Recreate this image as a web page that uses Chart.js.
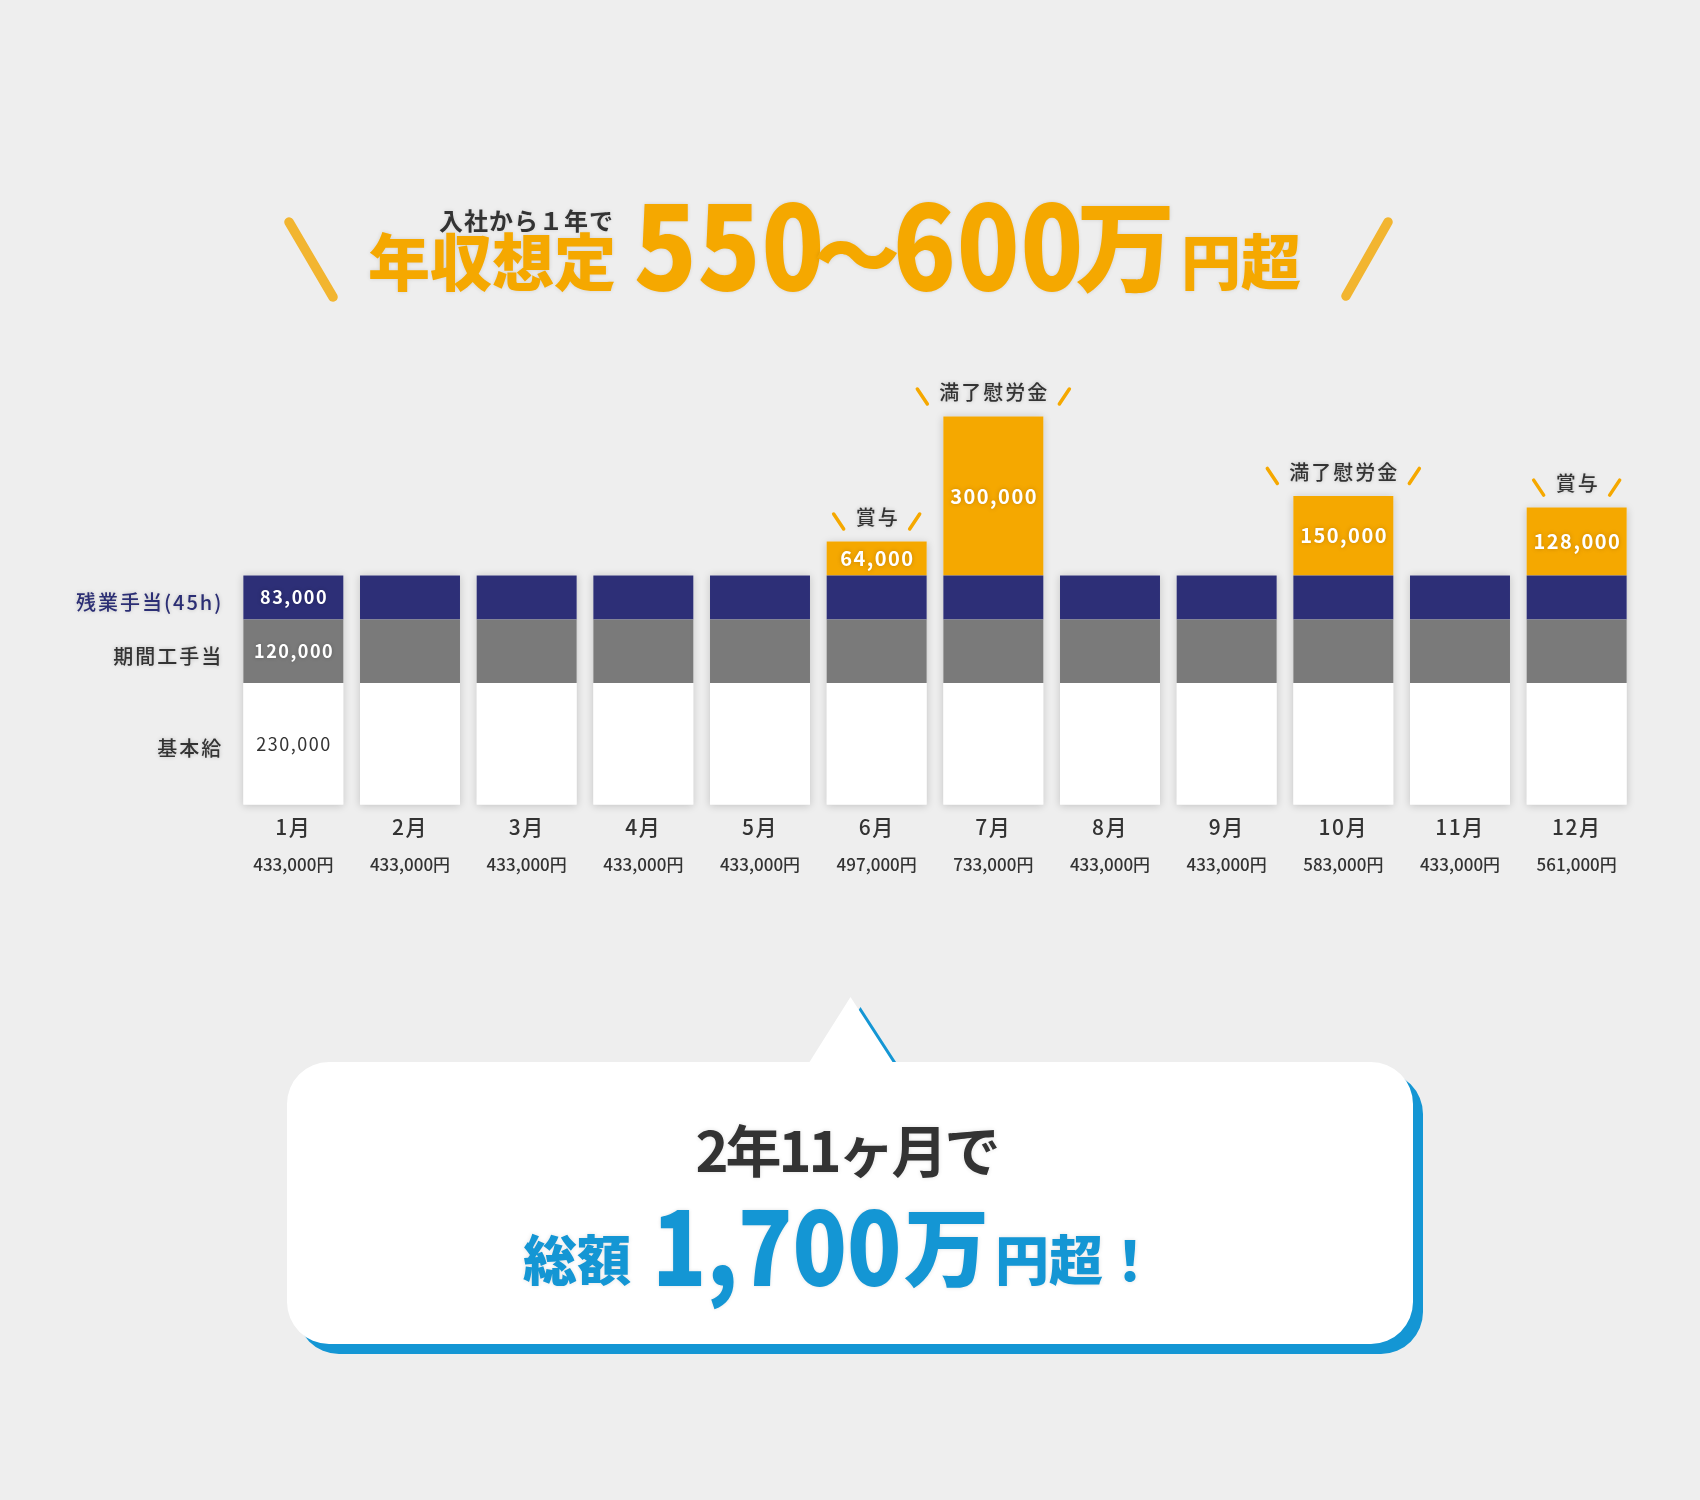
<!DOCTYPE html>
<html lang="ja">
<head>
<meta charset="utf-8">
<title>年収想定</title>
<script src="https://cdn.jsdelivr.net/npm/chart.js@4.4.1/dist/chart.umd.min.js"></script>
<style>
  body { margin: 0; background: #eeeeee; font-family: "Noto Sans CJK JP", "Noto Sans", sans-serif; }
  #page { position: relative; width: 1700px; height: 1500px; overflow: hidden; }
  #deco, #salary-chart { position: absolute; left: 0; top: 0; }
  .txt { position: absolute; line-height: 1; white-space: nowrap; text-shadow: 0 0 4px rgba(0,0,0,0.12); }
  .orange { color: #f5a800; font-weight: 900; }
  .blue { color: #1496d4; font-weight: 900; }
  /* the reference digits are a touch condensed */
  .narrow { transform: scaleX(0.89); transform-origin: 0 0; }
</style>
</head>
<body>
<div id="page">
  <svg id="deco" width="1700" height="1500">
    <g stroke="#f2b530" stroke-width="9.5" stroke-linecap="round">
      <line x1="289" y1="222" x2="333" y2="297"/>
      <line x1="1388" y1="222" x2="1346" y2="296"/>
    </g>
    <!-- speech bubble: blue copy offset behind the white one -->
    <path transform="translate(10,10)" fill="#1496d4" d="M329 1062 L809.5 1062 L850.5 997 L892.5 1062 L1371 1062 A42 42 0 0 1 1413 1104 L1413 1302 A42 42 0 0 1 1371 1344 L329 1344 A42 42 0 0 1 287 1302 L287 1104 A42 42 0 0 1 329 1062 Z"/>
    <path fill="#ffffff" d="M329 1062 L809.5 1062 L850.5 997 L892.5 1062 L1371 1062 A42 42 0 0 1 1413 1104 L1413 1302 A42 42 0 0 1 1371 1344 L329 1344 A42 42 0 0 1 287 1302 L287 1104 A42 42 0 0 1 329 1062 Z"/>
  </svg>

  <canvas id="salary-chart" width="1700" height="1500"></canvas>

  <!-- title -->
  <div class="txt" style="left:439px; top:208px; font-size:24px; font-weight:700; color:#333; letter-spacing:1px;">入社から１年で</div>
  <div class="txt orange" style="left:368px; top:228px; font-size:62px;">年収想定</div>
  <div class="txt orange narrow" style="left:634px; top:181px; font-size:116px; letter-spacing:1px;">550</div>
  <div class="txt orange" style="left:814px; top:208px; font-size:86px;">〜</div>
  <div class="txt orange narrow" style="left:893px; top:181px; font-size:116px; letter-spacing:1px;">600</div>
  <div class="txt orange" style="left:1076px; top:192px; font-size:99px;">万</div>
  <div class="txt orange" style="left:1181px; top:229px; font-size:60px;">円超</div>

  <!-- bubble text -->
  <div class="txt" style="left:287px; width:1119px; text-align:center; top:1120px; font-size:56px; font-weight:700; color:#333; letter-spacing:-3px;">2年11ヶ月で</div>
  <div class="txt blue" style="left:523px; top:1231px; font-size:54px;">総額</div>
  <div class="txt blue" style="left:652px; top:1191px; font-size:102px; transform:scaleX(0.878); transform-origin:0 0;">1,700</div>
  <div class="txt blue" style="left:904px; top:1200px; font-size:85px;">万</div>
  <div class="txt blue" style="left:995px; top:1231px; font-size:54px;">円超！</div>
</div>

<script>
  // monthly pay breakdown (yen)
  const months = ['1月', '2月', '3月', '4月', '5月', '6月', '7月', '8月', '9月', '10月', '11月', '12月'];
  const basePay = [230000, 230000, 230000, 230000, 230000, 230000, 230000, 230000, 230000, 230000, 230000, 230000];
  const periodAllowance = [120000, 120000, 120000, 120000, 120000, 120000, 120000, 120000, 120000, 120000, 120000, 120000];
  const overtimePay = [83000, 83000, 83000, 83000, 83000, 83000, 83000, 83000, 83000, 83000, 83000, 83000];
  const bonusPay = [0, 0, 0, 0, 0, 64000, 300000, 0, 0, 150000, 0, 128000];
  const bonusNames = ['', '', '', '', '', '賞与', '満了慰労金', '', '', '満了慰労金', '', '賞与'];
  const seriesNames = ['基本給', '期間工手当', '残業手当(45h)', '賞与・満了慰労金'];

  const totals = months.map((m, i) => basePay[i] + periodAllowance[i] + overtimePay[i] + bonusPay[i]);

  const FONT = '"Noto Sans CJK JP", "Noto Sans", sans-serif';
  const fmt = v => v.toLocaleString('en-US');

  function drawText(ctx, text, x, y, font, color, align, spacing, shadow) {
    ctx.save();
    ctx.font = font;
    ctx.fillStyle = color;
    ctx.textAlign = align || 'center';
    ctx.textBaseline = 'middle';
    ctx.letterSpacing = (spacing || 0) + 'px';
    if (shadow) {
      ctx.shadowColor = shadow;
      ctx.shadowBlur = 4;
    }
    // letterSpacing leaves a trailing gap, shift it back for centred text
    let dx = (align === 'center' || !align) ? (spacing || 0) / 2 : (align === 'right' ? (spacing || 0) : 0);
    ctx.fillText(text, x + dx, y);
    ctx.restore();
  }

  // soft shadow behind each whole stack
  const stackShadow = {
    id: 'stackShadow',
    beforeDatasetsDraw(chart) {
      const ctx = chart.ctx;
      const metas = chart.data.datasets.map((d, k) => chart.getDatasetMeta(k));
      for (let i = 0; i < months.length; i++) {
        const bottomEl = metas[0].data[i];
        let top = bottomEl.y;
        metas.forEach((m, k) => {
          if (chart.data.datasets[k].data[i] > 0) top = Math.min(top, m.data[i].y);
        });
        ctx.save();
        ctx.shadowColor = 'rgba(0,0,0,0.18)';
        ctx.shadowBlur = 8;
        ctx.shadowOffsetY = 1;
        ctx.fillStyle = '#eeeeee';
        ctx.fillRect(bottomEl.x - bottomEl.width / 2, top, bottomEl.width, bottomEl.base - top);
        ctx.restore();
      }
    }
  };

  const barLabels = {
    id: 'barLabels',
    beforeDraw(chart) {
      chart.ctx.letterSpacing = '1.5px';
    },
    afterDatasetsDraw(chart) {
      const ctx = chart.ctx;
      const ds = chart.data.datasets;
      const textShadow = 'rgba(0,0,0,0.2)';

      // series names to the left of the first bar, and its values inside
      for (let k = 0; k < 3; k++) {
        const el = chart.getDatasetMeta(k).data[0];
        const cy = (el.y + el.base) / 2;
        const nameColor = k === 2 ? '#2b2e74' : '#333333';
        drawText(ctx, ds[k].label, el.x - el.width / 2 - 22, cy + 5, '500 20px ' + FONT, nameColor, 'right', 2, textShadow);
        if (k === 0) {
          drawText(ctx, fmt(ds[k].data[0]), el.x, cy, '400 18px ' + FONT, '#333333', 'center', 1.5);
        } else {
          drawText(ctx, fmt(ds[k].data[0]), el.x, cy, '700 18px ' + FONT, '#ffffff', 'center', 1.5, textShadow);
        }
      }

      // bonus values and their captions
      const bonusMeta = chart.getDatasetMeta(3);
      bonusMeta.data.forEach((el, i) => {
        const v = ds[3].data[i];
        if (!v) return;
        drawText(ctx, fmt(v), el.x, (el.y + el.base) / 2, '700 20px ' + FONT, '#ffffff', 'center', 1.5, 'rgba(120,70,0,0.35)');
        const ty = el.y - 24;
        const name = bonusNames[i];
        ctx.save();
        ctx.font = '500 20px ' + FONT;
        ctx.letterSpacing = '2px';
        const half = (ctx.measureText(name).width - 2) / 2;
        ctx.restore();
        drawText(ctx, name, el.x, ty, '500 20px ' + FONT, '#333333', 'center', 2, textShadow);
        ctx.save();
        ctx.strokeStyle = '#f5a800';
        ctx.lineWidth = 3.5;
        ctx.lineCap = 'round';
        ctx.beginPath();
        ctx.moveTo(el.x - half - 22, ty - 3.5);
        ctx.lineTo(el.x - half - 12, ty + 11.5);
        ctx.moveTo(el.x + half + 22, ty - 3.5);
        ctx.lineTo(el.x + half + 12, ty + 11.5);
        ctx.stroke();
        ctx.restore();
      });

      // monthly totals under the month labels
      const xScale = chart.scales.x;
      totals.forEach((t, i) => {
        drawText(ctx, fmt(t) + '円', xScale.getPixelForValue(i), 865, '500 17px ' + FONT, '#333333', 'center', 0);
      });
    }
  };

  const ctx = document.getElementById('salary-chart').getContext('2d');
  const salaryChart = new Chart(ctx, {
    type: 'bar',
    data: {
      labels: months,
      datasets: [
        { label: seriesNames[0], data: basePay, backgroundColor: '#ffffff' },
        { label: seriesNames[1], data: periodAllowance, backgroundColor: '#7a7a7a' },
        { label: seriesNames[2], data: overtimePay, backgroundColor: '#2d2f77' },
        { label: seriesNames[3], data: bonusPay, backgroundColor: '#f5a800' }
      ]
    },
    options: {
      responsive: false,
      devicePixelRatio: 1,
      animation: false,
      layout: { padding: { left: 235, right: 65, top: 381, bottom: 650 } },
      datasets: { bar: { barPercentage: 0.857, categoryPercentage: 1.0, borderWidth: 0 } },
      plugins: {
        legend: { display: false },
        tooltip: { enabled: false }
      },
      scales: {
        x: {
          stacked: true,
          grid: { display: false, drawTicks: false },
          border: { display: false },
          ticks: { color: '#333333', padding: 10, font: { family: FONT, size: 21, weight: '500' } }
        },
        y: { stacked: true, display: false, min: 0, max: 800000 }
      }
    },
    plugins: [stackShadow, barLabels]
  });
</script>
</body>
</html>
